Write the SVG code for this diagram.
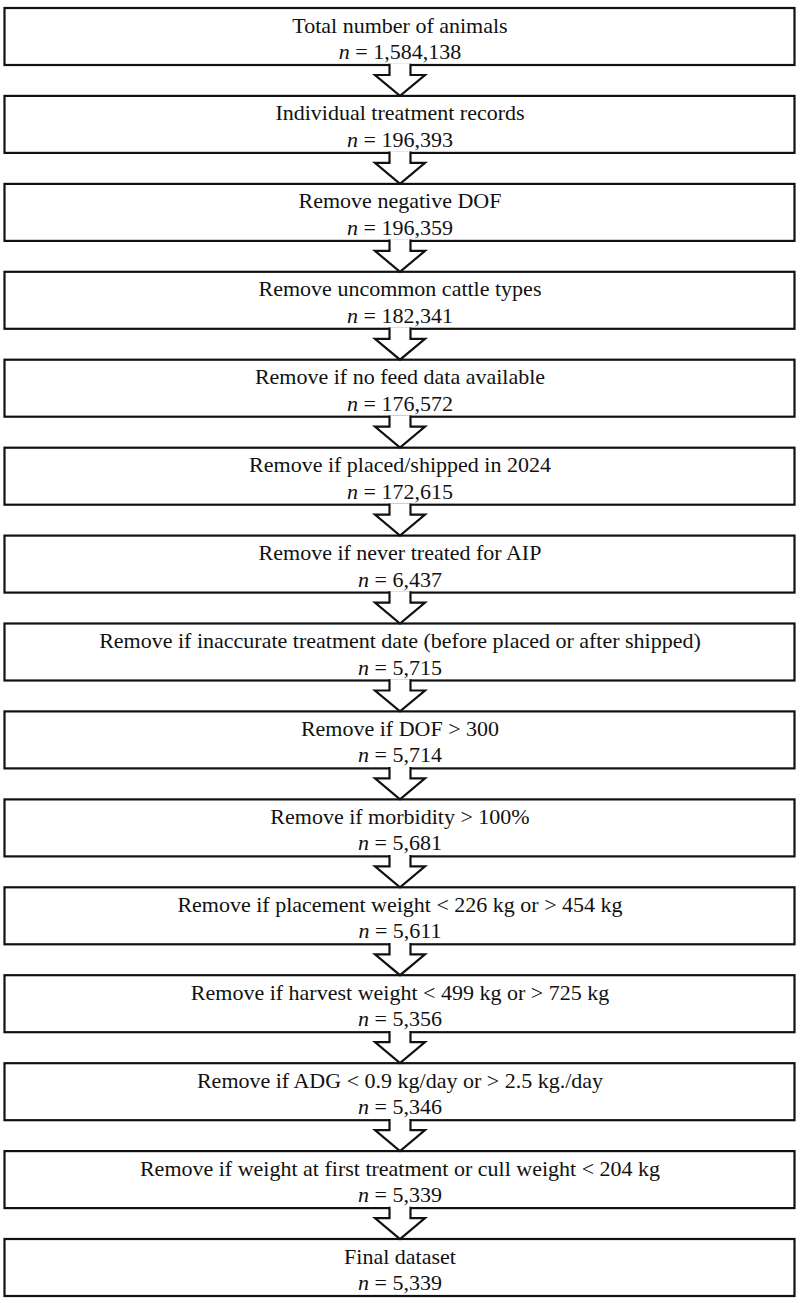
<svg xmlns="http://www.w3.org/2000/svg" xmlns:xlink="http://www.w3.org/1999/xlink" width="800" height="1303" viewBox="0 0 800 1303">
<style>
.box{fill:#fff;stroke:#111;stroke-width:2.2}
text{font-family:'Liberation Serif','Times New Roman','DejaVu Serif',serif;font-size:22px;fill:#111;text-anchor:middle}
.n{font-style:italic}
.arr{fill:#fff;stroke:#111;stroke-width:2.2;stroke-linejoin:miter}
</style>
<defs>
<path id="arrow" class="arr" d="M389.5,-1.3 V10 H375 L400,30.9 L425,10 H410.5 V-1.3"/>
</defs>
<rect width="800" height="1303" fill="#fff"/>
<g id="node1"><rect class="box" x="4.5" y="8" width="790" height="57"/><text x="400" y="32.5">Total number of animals</text><text x="400" y="59"><tspan class="n">n</tspan> = 1,584,138</text></g>
<g id="node2"><rect class="box" x="4.5" y="95.9" width="790" height="57"/><text x="400" y="120.4">Individual treatment records</text><text x="400" y="146.9"><tspan class="n">n</tspan> = 196,393</text></g>
<g id="node3"><rect class="box" x="4.5" y="183.9" width="790" height="57"/><text x="400" y="208.4">Remove negative DOF</text><text x="400" y="234.9"><tspan class="n">n</tspan> = 196,359</text></g>
<g id="node4"><rect class="box" x="4.5" y="271.8" width="790" height="57"/><text x="400" y="296.3">Remove uncommon cattle types</text><text x="400" y="322.8"><tspan class="n">n</tspan> = 182,341</text></g>
<g id="node5"><rect class="box" x="4.5" y="359.7" width="790" height="57"/><text x="400" y="384.2">Remove if no feed data available</text><text x="400" y="410.7"><tspan class="n">n</tspan> = 176,572</text></g>
<g id="node6"><rect class="box" x="4.5" y="447.7" width="790" height="57"/><text x="400" y="472.2">Remove if placed/shipped in 2024</text><text x="400" y="498.7"><tspan class="n">n</tspan> = 172,615</text></g>
<g id="node7"><rect class="box" x="4.5" y="535.6" width="790" height="57"/><text x="400" y="560.1">Remove if never treated for AIP</text><text x="400" y="586.6"><tspan class="n">n</tspan> = 6,437</text></g>
<g id="node8"><rect class="box" x="4.5" y="623.5" width="790" height="57"/><text x="400" y="648">Remove if inaccurate treatment date (before placed or after shipped)</text><text x="400" y="674.5"><tspan class="n">n</tspan> = 5,715</text></g>
<g id="node9"><rect class="box" x="4.5" y="711.4" width="790" height="57"/><text x="400" y="735.9">Remove if DOF &gt; 300</text><text x="400" y="762.4"><tspan class="n">n</tspan> = 5,714</text></g>
<g id="node10"><rect class="box" x="4.5" y="799.4" width="790" height="57"/><text x="400" y="823.9">Remove if morbidity &gt; 100%</text><text x="400" y="850.4"><tspan class="n">n</tspan> = 5,681</text></g>
<g id="node11"><rect class="box" x="4.5" y="887.3" width="790" height="57"/><text x="400" y="911.8">Remove if placement weight &lt; 226 kg or &gt; 454 kg</text><text x="400" y="938.3"><tspan class="n">n</tspan> = 5,611</text></g>
<g id="node12"><rect class="box" x="4.5" y="975.2" width="790" height="57"/><text x="400" y="999.7">Remove if harvest weight &lt; 499 kg or &gt; 725 kg</text><text x="400" y="1026.2"><tspan class="n">n</tspan> = 5,356</text></g>
<g id="node13"><rect class="box" x="4.5" y="1063.2" width="790" height="57"/><text x="400" y="1087.7">Remove if ADG &lt; 0.9 kg/day or &gt; 2.5 kg./day</text><text x="400" y="1114.2"><tspan class="n">n</tspan> = 5,346</text></g>
<g id="node14"><rect class="box" x="4.5" y="1151.1" width="790" height="57"/><text x="400" y="1175.6">Remove if weight at first treatment or cull weight &lt; 204 kg</text><text x="400" y="1202.1"><tspan class="n">n</tspan> = 5,339</text></g>
<g id="node15"><rect class="box" x="4.5" y="1239" width="790" height="57"/><text x="400" y="1263.5">Final dataset</text><text x="400" y="1290"><tspan class="n">n</tspan> = 5,339</text></g>
<g id="connectors">
<use xlink:href="#arrow" transform="translate(0,65)"/>
<use xlink:href="#arrow" transform="translate(0,152.9)"/>
<use xlink:href="#arrow" transform="translate(0,240.9)"/>
<use xlink:href="#arrow" transform="translate(0,328.8)"/>
<use xlink:href="#arrow" transform="translate(0,416.7)"/>
<use xlink:href="#arrow" transform="translate(0,504.7)"/>
<use xlink:href="#arrow" transform="translate(0,592.6)"/>
<use xlink:href="#arrow" transform="translate(0,680.5)"/>
<use xlink:href="#arrow" transform="translate(0,768.4)"/>
<use xlink:href="#arrow" transform="translate(0,856.4)"/>
<use xlink:href="#arrow" transform="translate(0,944.3)"/>
<use xlink:href="#arrow" transform="translate(0,1032.2)"/>
<use xlink:href="#arrow" transform="translate(0,1120.2)"/>
<use xlink:href="#arrow" transform="translate(0,1208.1)"/>
</g>
</svg>
